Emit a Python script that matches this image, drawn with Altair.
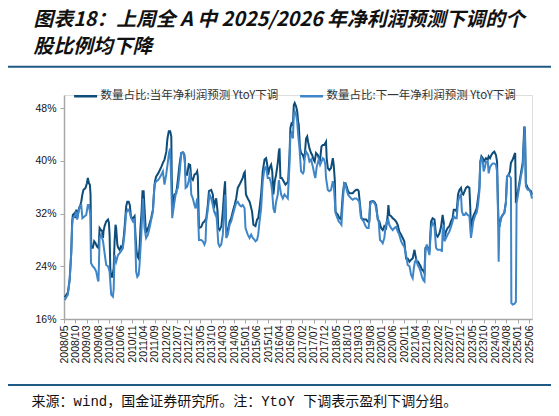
import altair as alt
import pandas as pd

# ---------------- data ----------------
series_names = ["数量占比:当年净利润预测 YtoY下调", "数量占比:下一年净利润预测 YtoY下调"]
series_colors = ["#0e4c7a", "#3f86c8"]

# x positions are months since 2008/05
tick_labels = ["2008/05", "2008/10", "2009/03", "2009/08", "2010/01", "2010/06", "2010/11",
               "2011/04", "2011/09", "2012/02", "2012/07", "2012/12", "2013/05", "2013/10",
               "2014/03", "2014/08", "2015/01", "2015/06", "2015/11", "2016/04", "2016/09",
               "2017/02", "2017/07", "2017/12", "2018/05", "2018/10", "2019/03", "2019/08",
               "2020/01", "2020/06", "2020/11", "2021/04", "2021/09", "2022/02", "2022/07",
               "2022/12", "2023/05", "2023/10", "2024/03", "2024/08", "2025/01", "2025/06"]
tick_months = [5 * i for i in range(len(tick_labels))]
y_ticks = [16, 24, 32, 40, 48]

title_lines = ["图表18：上周全 A 中 2025/2026 年净利润预测下调的个", "股比例均下降"]
source_text = "来源：wind，国金证券研究所。注：YtoY 下调表示盈利下调分组。"

# (month index, percent)
dark = [(0.3,19.3),(1.7,20.0),(2.5,22.0),(3.2,26.2),(3.6,30.8),(3.9,31.8),(4.7,32.1),(5.0,31.3),
(5.4,32.6),(5.8,31.3),(6.6,32.8),(7.2,33.3),(7.6,33.8),(8.1,34.9),(8.6,35.6),(9.5,35.9),(10.1,36.6),
(10.5,37.4),(11.0,36.6),(11.4,36.4),(11.7,34.9),(12.0,26.8),(12.7,26.8),(13.3,27.8),(13.9,27.5),
(14.5,27.0),(15.1,26.8),(15.4,27.8),(15.7,29.8),(16.3,29.5),(16.9,29.3),(17.2,28.3),(17.4,29.3),
(17.9,30.1),(18.6,30.8),(19.4,31.1),(19.8,30.6),(20.1,28.8),(20.4,23.7),(20.8,22.4),(21.3,22.4),
(21.9,23.7),(22.3,27.8),(22.7,30.3),(23.0,29.8),(23.5,27.3),(23.9,26.8),(24.5,26.5),(25.1,27.0),
(25.7,26.8),(26.3,28.3),(26.8,30.3),(27.4,33.1),(27.9,33.8),(28.5,33.8),(29.0,33.3),(29.5,31.6),
(29.9,31.3),(30.7,31.4),(31.1,31.6),(31.5,28.8),(32.0,26.2),(32.4,25.5),(32.9,25.2),(33.3,26.8),
(33.7,29.8),(34.2,32.3),(34.6,35.4),(35.1,35.4),(35.5,32.8),(36.0,29.8),(36.5,29.3),(37.4,30.1),
(38.4,31.3),(39.2,32.6),(39.6,34.9),(40.1,36.9),(40.6,37.6),(41.5,38.1),(42.1,38.5),(42.9,39.1),
(43.6,39.7),(44.3,40.2),(45.1,41.4),(45.6,43.4),(46.2,44.5),(46.8,44.5),(47.3,43.7),(47.5,37.4),
(47.8,33.3),(48.1,32.8),(48.7,34.9),(49.5,35.1),(50.2,37.1),(50.9,39.4),(51.7,41.2),(52.4,41.3),
(53.1,40.9),(53.6,37.9),(54.3,37.9),(55.0,39.5),(55.6,39.4),(56.1,37.4),(56.8,37.1),(57.5,37.9),
(58.3,38.1),(58.7,38.4),(59.0,37.6),(59.5,29.8),(60.5,30.0),(61.2,30.6),(61.9,30.8),(62.7,31.3),
(63.4,33.3),(63.9,35.4),(64.9,35.6),(65.6,34.9),(66.1,32.8),(66.6,33.8),(67.1,34.3),(67.7,32.3),
(68.0,29.8),(68.6,29.5),(69.4,30.1),(70.0,32.3),(70.6,35.4),(71.0,36.9),(71.5,29.8),(72.2,29.3),
(73.0,30.8),(73.7,31.3),(74.4,32.3),(75.2,33.3),(75.9,34.3),(76.6,35.9),(77.4,36.4),(78.1,36.9),
(78.8,37.4),(79.3,38.1),(79.7,38.3),(80.2,34.9),(81.0,34.3),(81.8,33.8),(82.2,33.3),(82.9,32.3),
(83.5,30.3),(84.4,30.1),(85.1,31.1),(85.6,31.3),(86.2,32.8),(86.9,34.9),(87.6,38.4),(88.4,40.2),
(89.1,40.4),(89.6,39.4),(90.0,37.9),(90.6,38.9),(91.3,39.4),(91.8,38.4),(92.3,34.9),(92.9,36.9),
(93.5,37.9),(94.3,39.9),(94.7,41.4),(95.0,41.9),(95.4,37.4),(96.0,37.4),(96.8,36.9),(97.6,36.4),
(98.2,36.6),(98.8,36.9),(99.4,40.9),(99.8,45.0),(100.3,45.7),(100.9,45.5),(101.3,48.5),(101.7,48.8),
(102.3,48.3),(102.8,47.5),(103.2,46.0),(103.5,45.5),(104.0,42.0),(104.5,41.2),(105.3,40.9),
(105.7,40.4),(106.1,40.7),(106.7,43.4),(107.2,43.7),(107.6,42.9),(108.2,41.9),(108.9,41.2),
(109.4,40.9),(110.0,40.2),(110.5,39.9),(111.1,41.2),(111.9,40.9),(112.3,40.4),(112.9,40.2),
(113.5,42.2),(114.1,42.4),(114.7,42.4),(115.2,42.7),(115.5,42.9),(115.8,40.4),(116.3,38.9),
(117.0,38.6),(117.7,38.9),(118.5,40.4),(118.9,39.4),(119.4,36.9),(119.7,32.3),(120.0,32.1),
(120.7,31.8),(121.4,31.3),(122.1,31.1),(122.9,34.9),(123.5,36.6),(124.1,36.6),(124.6,36.1),
(125.2,35.4),(125.8,35.1),(126.6,35.1),(127.3,35.1),(128.0,35.4),(128.8,35.6),(129.5,35.6),
(129.9,35.4),(130.5,33.3),(131.1,31.3),(131.7,31.2),(132.4,31.1),(133.2,31.1),(133.9,30.8),
(134.6,30.8),(135.0,33.8),(136.1,33.9),(136.8,33.8),(137.6,33.3),(138.3,31.1),(139.0,30.8),
(139.8,29.8),(140.5,29.5),(141.2,30.1),(142.0,29.8),(142.7,31.8),(143.0,33.3),(143.4,31.8),
(144.2,31.6),(144.9,31.3),(145.6,31.1),(146.4,30.8),(147.1,30.3),(147.8,29.3),(148.6,28.8),
(149.3,28.3),(150.0,27.8),(150.8,25.2),(151.5,25.2),(152.3,24.7),(153.0,25.0),(153.7,25.2),
(154.5,26.5),(154.9,25.7),(155.5,24.7),(156.1,24.7),(156.7,24.3),(157.2,24.0),(157.8,23.5),
(158.4,23.3),(158.9,23.0),(159.3,26.8),(159.9,27.0),(160.5,26.8),(161.1,26.2),(161.8,30.8),
(162.5,31.3),(163.3,31.1),(164.0,28.8),(164.7,28.5),(165.5,29.0),(166.2,30.0),(166.9,31.8),
(167.4,30.6),(167.7,28.3),(168.4,29.3),(169.1,29.8),(169.9,30.1),(170.6,30.8),(171.3,31.3),
(171.8,32.6),(172.5,32.6),(173.1,32.3),(173.7,34.9),(174.3,35.6),(175.0,35.9),(175.4,35.1),
(176.0,34.9),(176.6,35.4),(177.2,35.9),(177.9,36.1),(178.7,35.9),(179.1,32.8),(179.4,29.0),
(179.9,30.8),(180.4,31.6),(181.3,32.3),(181.9,32.8),(182.5,34.3),(183.1,35.9),(183.5,39.9),
(184.0,40.7),(184.6,40.4),(185.0,39.9),(185.6,40.2),(186.0,40.4),(186.8,40.2),(187.2,40.7),
(187.8,40.4),(188.4,40.9),(189.0,41.2),(189.7,41.4),(190.4,40.9),(190.9,39.9),(191.3,33.3),
(191.6,30.5),(191.9,30.0),(192.6,31.3),(193.4,31.8),(194.1,32.1),(194.8,33.8),(195.3,37.6),
(196.0,37.9),(196.6,38.4),(197.0,39.7),(197.8,40.2),(198.5,40.9),(198.9,41.2),(199.2,33.6),
(200.0,35.1),(200.7,36.6),(201.4,38.1),(202.2,39.7),(202.9,45.2),(203.2,44.7),(203.6,36.6),
(204.4,35.9),(205.1,35.6),(205.8,35.4),(206.3,34.9)]

light = [(0.3,18.9),(1.7,19.7),(2.5,21.9),(3.2,26.0),(3.6,30.3),(3.9,31.3),(4.7,31.6),(5.4,32.3),
(5.8,31.1),(6.6,32.6),(7.2,33.1),(7.6,33.3),(8.1,31.3),(9.1,31.6),(9.8,31.8),(10.5,33.3),(11.0,33.3),
(11.6,31.8),(11.9,24.5),(12.7,24.0),(13.5,23.7),(14.2,23.2),(14.95,21.9),(15.2,21.7),(15.7,28.3),
(16.4,28.8),(17.2,27.8),(17.9,26.0),(18.6,24.2),(19.4,24.0),(20.1,23.2),(20.8,19.7),(21.55,19.4),
(21.9,20.5),(22.3,25.7),(23.0,24.7),(23.8,25.7),(24.5,26.0),(25.2,26.3),(25.96,26.8),(26.7,29.0),
(27.4,32.1),(28.2,32.6),(28.9,32.3),(29.6,31.3),(30.4,30.8),(31.1,31.1),(31.5,27.0),(31.8,23.2),
(32.3,22.4),(32.9,22.7),(33.3,24.2),(34.0,28.3),(34.8,34.3),(35.5,29.8),(36.2,28.3),(37.0,28.8),
(37.7,29.8),(38.4,31.0),(39.2,32.3),(39.9,36.4),(40.6,36.9),(41.5,37.1),(42.1,37.4),(42.9,37.9),
(43.6,38.4),(44.3,36.4),(45.05,37.9),(45.8,39.9),(46.3,41.2),(46.8,41.9),(47.25,36.9),(47.7,31.3),
(48.7,33.8),(49.45,35.4),(50.2,35.9),(50.9,37.9),(51.7,41.2),(52.7,41.2),(53.3,39.9),(53.6,35.9),
(54.3,36.1),(55.0,37.0),(55.6,38.4),(56.1,34.9),(56.8,34.3),(57.5,33.3),(58.0,32.8),(58.7,34.3),
(59.0,32.8),(59.5,28.0),(60.5,28.0),(61.2,27.8),(61.9,27.3),(62.4,27.8),(62.7,30.8),(63.4,32.6),
(64.15,34.9),(64.9,34.3),(65.6,33.3),(66.2,32.3),(66.8,31.8),(67.1,32.3),(67.5,30.3),(68.0,27.5),
(68.6,27.0),(69.3,27.3),(70.0,28.8),(70.75,33.3),(71.05,34.9),(71.5,28.3),(72.2,28.8),(73.0,30.3),
(73.7,30.8),(74.4,31.8),(75.2,32.8),(75.9,33.6),(76.6,33.8),(77.4,33.3),(78.1,33.1),(78.8,33.3),
(79.6,32.8),(80.0,29.8),(81.0,28.8),(81.8,28.3),(82.5,28.8),(83.2,28.3),(84.0,28.0),(84.4,27.8),
(85.1,28.0),(85.6,28.8),(86.2,30.8),(86.9,32.8),(87.6,36.9),(88.4,38.9),(89.1,39.1),(89.8,37.4),
(90.6,37.4),(91.3,36.6),(91.75,35.4),(92.3,32.8),(92.9,32.1),(93.5,33.8),(94.25,34.9),(94.7,37.1),
(95.0,36.4),(95.7,34.9),(96.45,34.3),(97.2,34.9),(97.9,34.6),(98.65,34.3),(99.4,39.4),(99.8,43.9),
(100.3,44.2),(100.9,43.4),(101.3,47.0),(101.7,47.5),(102.3,47.0),(102.8,46.0),(103.2,44.0),
(103.8,42.0),(104.2,39.9),(104.5,38.4),(105.3,38.1),(105.7,38.4),(106.1,40.4),(106.7,41.4),
(107.6,40.9),(108.2,39.9),(108.9,40.2),(109.7,39.1),(110.4,37.9),(110.8,37.4),(111.4,39.1),
(112.3,40.2),(112.9,39.4),(113.5,39.9),(114.1,40.4),(114.7,40.2),(115.2,39.4),(115.5,37.4),
(116.3,35.6),(117.0,35.4),(117.7,35.6),(118.5,36.9),(118.9,36.4),(119.4,33.8),(119.7,32.1),
(120.2,31.6),(121.1,30.8),(121.7,30.6),(122.3,30.3),(122.9,33.8),(123.5,36.6),(124.1,36.4),
(124.6,35.6),(125.2,34.9),(125.8,34.6),(126.6,34.3),(127.3,34.1),(128.0,34.3),(128.8,34.3),
(129.5,34.1),(130.2,33.8),(130.8,31.6),(131.4,31.1),(132.1,30.8),(132.9,30.1),(133.6,29.8),
(134.3,29.8),(134.9,33.3),(135.5,33.8),(136.4,33.8),(137.3,33.3),(137.9,32.1),(138.7,30.8),
(139.3,28.0),(139.9,27.8),(140.5,27.5),(141.2,28.3),(141.7,29.8),(142.3,30.8),(142.9,31.1),
(143.4,30.3),(144.2,29.8),(144.9,29.5),(145.6,29.8),(146.4,30.0),(147.1,29.3),(147.8,28.8),
(148.6,27.8),(149.3,27.3),(150.0,27.0),(150.8,25.7),(151.5,24.2),(152.3,24.0),(153.0,22.7),
(153.7,22.2),(154.2,23.7),(154.7,24.7),(155.2,25.0),(155.9,24.2),(156.7,23.7),(157.2,23.2),
(157.8,22.4),(158.4,21.9),(158.9,21.7),(159.3,26.2),(159.9,27.3),(160.5,26.5),(161.1,25.7),
(161.8,29.8),(162.5,30.6),(163.3,30.1),(164.0,26.8),(164.7,26.5),(165.5,26.5),(166.2,26.5),
(166.6,26.2),(166.9,29.3),(167.4,30.3),(167.7,27.8),(168.4,28.3),(169.1,28.8),(169.9,29.3),
(170.6,30.0),(171.3,30.8),(171.8,31.6),(172.5,31.3),(173.1,31.3),(173.7,33.8),(174.3,34.6),
(175.0,34.9),(175.4,32.3),(176.0,31.8),(176.6,31.8),(177.2,32.1),(177.9,31.8),(178.7,31.6),
(179.1,29.8),(179.4,28.3),(179.9,29.5),(180.4,30.8),(181.3,31.8),(181.9,32.1),(182.5,33.3),
(183.1,35.4),(183.5,39.6),(184.0,40.4),(184.6,39.9),(185.0,38.4),(185.6,39.1),(186.0,39.9),
(186.8,39.9),(187.2,38.1),(187.8,39.1),(188.4,39.4),(189.0,39.6),(189.7,39.6),(190.4,39.4),
(190.9,38.4),(191.3,32.3),(191.6,24.7),(191.9,29.8),(192.6,31.3),(193.4,31.8),(194.1,32.1),
(194.8,33.6),(195.3,37.6),(196.0,37.9),(196.6,37.6),(197.0,37.4),(197.2,18.4),(197.8,18.2),
(198.5,18.3),(199.2,18.6),(199.5,33.6),(200.0,34.6),(200.7,36.1),(201.4,37.6),(202.2,39.1),
(202.6,41.7),(203.1,45.2),(203.6,36.1),(204.4,35.6),(205.1,35.6),(205.8,35.1),(206.3,34.3)]

# ---------------- table ----------------
rows = []
for name, pts in zip(series_names, [dark, light]):
    for i, (m, v) in enumerate(pts):
        rows.append({"m": m, "v": v, "s": name, "o": i})
df = pd.DataFrame(rows)

W, H = 468, 224
CJK = "Noto Sans CJK SC"
LAT = "Liberation Sans"
AXIS_GREY = "#a6a6a6"
RULE = "#1f5a85"

label_arr = "[" + ",".join("'" + t + "'" for t in tick_labels) + "]"

legend = alt.Legend(
    title=None, orient="none", legendX=8.6, legendY=-12, direction="horizontal",
    symbolType="stroke", symbolSize=529, symbolStrokeWidth=2.5,
    labelFont=CJK, labelFontSize=11.5, labelColor="#333333", labelLimit=400,
    labelOffset=2, columnPadding=16, padding=0,
)
color = alt.Color("s:N", scale=alt.Scale(domain=series_names, range=series_colors), legend=legend)

x = alt.X("m:Q", scale=alt.Scale(domain=[0, 206.3], nice=False, zero=False),
          axis=alt.Axis(values=tick_months, labelExpr=label_arr + "[round(datum.value/5)]",
                        labelAngle=270, title=None, grid=False, labelFont=LAT, labelFontSize=10.5,
                        labelColor="#111111", domainColor=AXIS_GREY, domainWidth=1.5,
                        tickColor=AXIS_GREY, tickSize=4, labelPadding=2, labelOverlap=False))
y = alt.Y("v:Q", scale=alt.Scale(domain=[16, 50], nice=False, zero=False),
          axis=alt.Axis(values=y_ticks, labelExpr="datum.value + '%'", title=None, grid=False,
                        labelFont=LAT, labelFontSize=10.5, labelColor="#111111",
                        domainColor=AXIS_GREY, domainWidth=1.5, tickColor=AXIS_GREY,
                        tickSize=4, labelPadding=4))

base = alt.Chart(df)
line_dark = base.transform_filter(alt.datum.s == series_names[0]).mark_line(strokeWidth=2).encode(
    x=x, y=y, color=color, order="o:Q")
line_light = base.transform_filter(alt.datum.s == series_names[1]).mark_line(strokeWidth=2).encode(
    x=x, y=y, color=color, order="o:Q")

title1 = alt.Chart(pd.DataFrame({"t": [title_lines[0]]})).mark_text(
    font=CJK, fontSize=19.8, fontWeight="bold", fontStyle="italic", color="#111111",
    align="left", baseline="middle").encode(text="t:N", x=alt.value(-30.4), y=alt.value(-75.5))
title2 = alt.Chart(pd.DataFrame({"t": [title_lines[1]]})).mark_text(
    font=CJK, fontSize=19.8, fontWeight="bold", fontStyle="italic", color="#111111",
    align="left", baseline="middle").encode(text="t:N", x=alt.value(-30.4), y=alt.value(-48))

rule_top = alt.Chart(pd.DataFrame({"k": [0]})).mark_rule(color=RULE, strokeWidth=2).encode(
    x=alt.value(-60), x2=alt.value(487), y=alt.value(-28.3))
rule_bot = alt.Chart(pd.DataFrame({"k": [0]})).mark_rule(color=RULE, strokeWidth=2).encode(
    x=alt.value(-60), x2=alt.value(487), y=alt.value(290))

source = alt.Chart(pd.DataFrame({"t": [source_text]})).mark_text(
    font="Liberation Mono, " + CJK, fontSize=14, color="#111111",
    align="left", baseline="alphabetic").encode(text="t:N", x=alt.value(-32.4), y=alt.value(310.5))

chart = alt.layer(line_dark, line_light, title1, title2, rule_top, rule_bot, source).properties(
    width=W, height=H,
    padding={"left": 56, "top": 87, "right": 19, "bottom": 89},
    autosize=alt.AutoSizeParams(type="none"),
).configure_view(stroke="transparent").configure(background="white")

chart.save("out.html", embed_options={"renderer": "svg", "actions": False})
